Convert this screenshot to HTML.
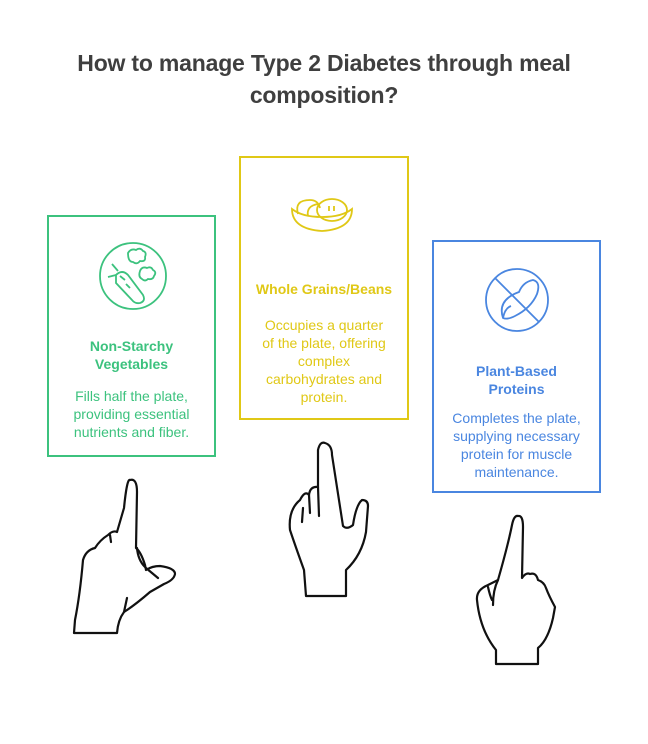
<!DOCTYPE html>
<html><head><style>
body{margin:0;width:648px;height:744px;background:#fff;font-family:"Liberation Sans",sans-serif;position:relative;overflow:hidden}
h1{position:absolute;left:0;width:648px;top:47px;margin:0;text-align:center;font-size:23px;line-height:32px;color:#3f3f3f;font-weight:bold;letter-spacing:-0.2px}
.box{position:absolute;border:2px solid;box-sizing:border-box;text-align:center}
.t{position:absolute;left:0;right:0;font-weight:bold;font-size:14px;line-height:18px}
.d{position:absolute;left:4px;right:4px;font-size:14px;line-height:18px}
</style></head><body>
<h1>How to manage Type 2 Diabetes through meal<br>composition?</h1>

<div class="box" style="left:47px;top:215px;width:169px;height:242px;border-color:#3cc27e;color:#3cc27e">
<svg style="position:absolute;left:47px;top:22px" width="74" height="74" viewBox="0 0 74 74" fill="none" stroke="#3cc27e" stroke-width="1.8">
<circle cx="37" cy="37" r="33"/>
<path d="M20 36 q6-6 12 0 l15 20 q3 6-3 8 q-5 1-8-3 l-16-17z"/>
<path d="M20 36 l-8 2 M22 32 l-6-7 M24 37l5 4 M30 45l4 4"/>
<path d="M32 14 q3-5 8-3 q4-3 7 1 q4 1 2 6 q1 5-5 4 q-3 4-7 1 q-5 0-5-9z"/>
<path d="M44 32 q2-5 7-3 q4-2 6 2 q4 2 1 6 q-1 4-6 3 q-3 3-6 0 q-4-2-2-8z"/>
</svg>
<div class="t" style="top:120px">Non-Starchy<br>Vegetables</div>
<div class="d" style="top:170px">Fills half the plate,<br>providing essential<br>nutrients and fiber.</div>
</div>

<div class="box" style="left:239px;top:156px;width:170px;height:264px;border-color:#e0c816;color:#e0c816">
<svg style="position:absolute;left:47px;top:38px" width="70" height="42" viewBox="0 0 70 42" fill="none" stroke="#e0c816" stroke-width="1.8">
<path d="M4 13 q0 20 30 22 q30-2 30-22 q-10 8-30 8 q-20 0-30-8z"/>
<path d="M10 18 q-4-14 12-14 q8 0 10 8"/>
<path d="M20 20 q-2-10 10-12"/>
<ellipse cx="44" cy="14" rx="15" ry="11"/>
<path d="M41 10v5 M46 10v5"/>
</svg>
<div class="t" style="top:122px">Whole Grains/Beans</div>
<div class="d" style="top:158px">Occupies a quarter<br>of the plate, offering<br>complex<br>carbohydrates and<br>protein.</div>
</div>

<div class="box" style="left:432px;top:240px;width:169px;height:253px;border-color:#4a86e0;color:#4a86e0">
<svg style="position:absolute;left:47px;top:22px" width="72" height="72" viewBox="0 0 72 72" fill="none" stroke="#4a86e0" stroke-width="1.8">
<circle cx="36" cy="36" r="31"/>
<path d="M14 14 L58 58"/>
<path d="M22 54 q-6-18 16-26 q4-10 14-12 q8 2 4 14 q-6 14-22 22 q-8 4-12 2z"/>
<path d="M22 54 q2-10 8-12"/>
</svg>
<div class="t" style="top:120px">Plant-Based<br>Proteins</div>
<div class="d" style="top:167px">Completes the plate,<br>supplying necessary<br>protein for muscle<br>maintenance.</div>
</div>

<svg style="position:absolute;left:0;top:0" width="648" height="744" fill="none" stroke="#111" stroke-width="2.2" stroke-linejoin="round" stroke-linecap="round">
<path d="M74 633 L75 620 Q80 595 83 560 Q86 550 95 548 Q100 540 108 535 Q113 530 117 532 L124 508 Q127 478 130 480 Q137 478 137 492 L136 548 Q141 552 145 565 L146 570 Q152 566 160 566 Q175 568 175 574 Q174 580 164 584 L150 592 Q135 605 124 612 Q118 620 117 633 Z"/>
<path d="M110 535 L111 542 M137 548 Q138 560 145 567 M146 568 L158 578 M124 612 L127 598"/>
<path d="M306 596 L304 570 Q295 545 290 530 Q288 510 300 500 Q305 490 309 495 Q310 486 318 487 L318 450 Q320 441 325 443 Q332 445 332 455 L343 526 Q347 530 353 525 Q356 505 362 500 Q368 500 368 506 L366 532 Q362 555 346 570 L346 596 Z"/>
<path d="M303 508 L302 522 M309 495 L310 513 M318 487 L319 516"/>
<path d="M496 664 L496 650 Q480 630 477 600 Q476 590 488 585 L498 580 Q508 545 512 525 Q514 515 518 516 Q523 515 523 527 L522 578 Q526 572 530 574 Q536 572 538 580 Q544 582 546 588 Q549 596 555 607 L553 618 Q548 640 538 648 L538 664 Z"/>
<path d="M498 580 Q493 590 493 605 M488 587 Q490 596 492 600"/>
</svg>
</body></html>
